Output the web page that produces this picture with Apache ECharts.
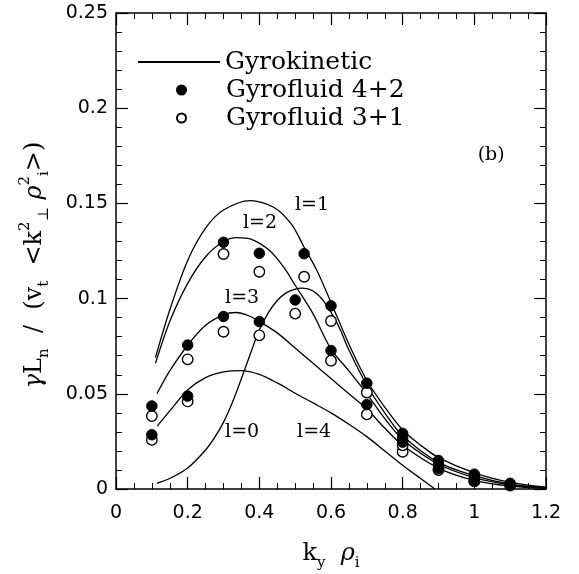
<!DOCTYPE html>
<html><head><meta charset="utf-8">
<script src="https://cdn.jsdelivr.net/npm/echarts@6/dist/echarts.min.js"></script>
<style>html,body{margin:0;padding:0;background:#fff}#c{width:579px;height:574px}</style>
</head><body><div id="c"></div>
<script>
// Gyrokinetic curves, one per l (ky rho_i, growth rate)
const curveL0 = [[0.115,0.033],[0.15,0.041],[0.2,0.052],[0.25,0.0585],[0.3,0.0615],[0.35,0.0622],[0.4,0.0602],[0.45,0.0557],[0.5,0.0503],[0.55,0.0452],[0.6,0.0400],[0.65,0.0340],[0.7,0.0275],[0.75,0.0200],[0.8,0.0125],[0.85,0.0055],[0.89,0.0]];
const curveL1 = [[0.11,0.069],[0.15,0.094],[0.2,0.120],[0.25,0.137],[0.3,0.1465],[0.375,0.1515],[0.44,0.148],[0.49,0.139],[0.525,0.127],[0.56,0.115],[0.6,0.098],[0.65,0.076],[0.7,0.057],[0.75,0.043],[0.8,0.031],[0.85,0.023],[0.9,0.0165],[1.0,0.0085],[1.1,0.0035],[1.2,0.001]];
const curveL2 = [[0.11,0.066],[0.15,0.088],[0.2,0.108],[0.25,0.122],[0.3,0.130],[0.337,0.132],[0.38,0.131],[0.43,0.125],[0.47,0.116],[0.5,0.107],[0.55,0.092],[0.6,0.0735],[0.65,0.062],[0.7,0.050],[0.75,0.037],[0.8,0.026],[0.9,0.013],[1.0,0.006],[1.1,0.0022],[1.2,0.0004]];
const curveL3 = [[0.114,0.050],[0.15,0.062],[0.2,0.0755],[0.25,0.086],[0.3,0.0915],[0.335,0.0927],[0.37,0.091],[0.4,0.088],[0.45,0.082],[0.5,0.074],[0.55,0.066],[0.6,0.058],[0.65,0.050],[0.7,0.042],[0.75,0.032],[0.8,0.023],[0.9,0.011],[1.0,0.0045],[1.1,0.0015],[1.2,0.0003]];
const curveL4 = [[0.114,0.003],[0.15,0.0055],[0.2,0.011],[0.25,0.0205],[0.275,0.027],[0.3,0.035],[0.325,0.0455],[0.35,0.058],[0.375,0.071],[0.4,0.0835],[0.425,0.0925],[0.45,0.099],[0.475,0.103],[0.5,0.105],[0.52,0.1055],[0.55,0.104],[0.58,0.0985],[0.62,0.086],[0.65,0.073],[0.7,0.0545],[0.75,0.040],[0.8,0.028],[0.9,0.014],[1.0,0.007],[1.1,0.0025],[1.2,0.0005]];

// Gyrofluid results
const fluid42 = [[0.1,0.0436],[0.1,0.0285],[0.2,0.0756],[0.2,0.0488],[0.3,0.1296],[0.3,0.0906],[0.4,0.1238],[0.4,0.0879],[0.5,0.0993],[0.525,0.1236],[0.6,0.0962],[0.6,0.0727],[0.7,0.0556],[0.7,0.0443],[0.8,0.0292],[0.8,0.0268],[0.8,0.0246],[0.9,0.0150],[0.9,0.0128],[0.9,0.0108],[1.0,0.0078],[1.0,0.0062],[1.0,0.0042],[1.1,0.0030],[1.1,0.0022]];
const fluid31 = [[0.1,0.0383],[0.1,0.0258],[0.2,0.0681],[0.2,0.0460],[0.3,0.1234],[0.3,0.0826],[0.4,0.1141],[0.4,0.0807],[0.5,0.0921],[0.525,0.1115],[0.6,0.0882],[0.6,0.0674],[0.7,0.0507],[0.7,0.0392],[0.8,0.0196],[0.8,0.0230],[0.9,0.0100],[1.0,0.0040],[1.1,0.0018]];

// Annotation texts at data coordinates
const curveLabels = [[0.547,0.149,'l=1'],[0.402,0.1397,'l=2'],[0.352,0.1003,'l=3'],[0.352,0.030,'l=0'],[0.553,0.030,'l=4']];
const panelTag = [[1.047,0.1754,'(b)']];

const xRange = [0, 1.2], xStep = 0.2;
const yRange = [0, 0.25], yStep = 0.05;
const legendNames = ['Gyrokinetic','Gyrofluid 4+2','Gyrofluid 3+1'];

const SERIF = 'DejaVu Serif';
const TICKF = 'DejaVu Sans';
const chart = echarts.init(document.getElementById('c'), null, {renderer:'canvas'});

function axisCommon(showLabel, margin){
  return {
    type:'value',
    axisLine:{show:true, onZero:false, lineStyle:{color:'#000', width:1.5}},
    axisTick:{show:true, inside:true, length:12, lineStyle:{color:'#000', width:1.2}},
    splitLine:{show:false}, minorSplitLine:{show:false},
    axisLabel:{show:showLabel, color:'#000', fontFamily:TICKF, fontSize:19, margin:margin}
  };
}
const subStyle = {fontFamily:SERIF, fontSize:15, verticalAlign:'bottom', lineHeight:15, color:'#000'};
const supStyle = {fontFamily:SERIF, fontSize:15, verticalAlign:'top', lineHeight:15, color:'#000'};
const mainStyle = {fontFamily:SERIF, fontSize:24, lineHeight:34, color:'#000'};
const itStyle = {fontFamily:SERIF, fontSize:24, lineHeight:34, fontStyle:'italic', color:'#000'};

const xBottom = Object.assign(axisCommon(true, 15), {
  min:xRange[0], max:xRange[1], interval:xStep, position:'bottom',
  minorTick:{show:true, splitNumber:4, length:6, lineStyle:{color:'#000'}},
  name:'{n|k}{sub|y}{n|  }{it|ρ}{sub|i}', nameLocation:'middle', nameGap:48,
  nameTextStyle:{rich:{n:mainStyle, it:itStyle, sub:subStyle}}
});
const xTop = Object.assign(axisCommon(false, 8), {
  min:xRange[0], max:xRange[1], interval:xStep, position:'top',
  minorTick:{show:true, splitNumber:4, length:6, lineStyle:{color:'#000'}}
});
const yLeft = Object.assign(axisCommon(true, 8), {
  min:yRange[0], max:yRange[1], interval:yStep, position:'left',
  minorTick:{show:true, splitNumber:5, length:6, lineStyle:{color:'#000'}},
  name:'{it|γ}{n|L}{sub|n}{n|  /  (v}{sub|t}{n|  <k}{sup|2}{sub|⊥}{n| }{it|ρ}{sup|2}{sub|i}{n|>)}',
  nameLocation:'middle', nameGap:64, nameRotate:90,
  nameTextStyle:{padding:[0,28,0,0], rich:{n:mainStyle, it:itStyle, sub:subStyle, sup:supStyle}}
});
const yRight = Object.assign(axisCommon(false, 8), {
  min:yRange[0], max:yRange[1], interval:yStep, position:'right',
  minorTick:{show:true, splitNumber:5, length:6, lineStyle:{color:'#000'}}
});

function curve(data){
  return {name:legendNames[0], type:'line', data:data, smooth:0.3, symbol:'none',
    lineStyle:{color:'#000', width:1.3, opacity:1}, itemStyle:{color:'#000', opacity:1}, z:2, silent:true, animation:false};
}

const option = {
  animation:false,
  backgroundColor:'#fff',
  grid:{left:116, right:33, top:13, bottom:85, containLabel:false, outerBoundsMode:'none'},
  xAxis:[xBottom, xTop],
  yAxis:[yLeft, yRight],
  legend:[
    {data:[legendNames[0]], left:137, top:49, padding:0, orient:'vertical', itemWidth:82, itemHeight:14,
     selectedMode:false, itemStyle:{color:'rgba(0,0,0,0)', borderColor:'rgba(0,0,0,0)', borderWidth:0},
     textStyle:{fontFamily:SERIF, fontSize:25, color:'#000', lineHeight:26}},
    {data:[legendNames[1], legendNames[2]], left:176, top:77, padding:0, orient:'vertical', itemWidth:9, itemHeight:9, itemGap:2,
     selectedMode:false, textStyle:{fontFamily:SERIF, fontSize:25, color:'#000', lineHeight:26, padding:[0,0,0,35]}}
  ],
  series:[
    curve(curveL0), curve(curveL1), curve(curveL2), curve(curveL3), curve(curveL4),
    {name:legendNames[2], type:'scatter', data:fluid31, symbol:'circle', symbolSize:10.5,
     itemStyle:{color:'#fff', borderColor:'#000', borderWidth:1.4, opacity:1}, z:3, silent:true},
    {name:legendNames[1], type:'scatter', data:fluid42, symbol:'circle', symbolSize:10.5,
     itemStyle:{color:'#000', borderColor:'#000', borderWidth:1, opacity:1}, z:4, silent:true},
    {name:'labels', type:'scatter', data:curveLabels.concat(panelTag), symbolSize:0, silent:true, z:5,
     itemStyle:{opacity:1},
     label:{show:true, position:'inside', formatter:p=>p.data[2], fontFamily:SERIF, fontSize:19, color:'#000', opacity:1}}
  ]
};
chart.setOption(option);
</script></body></html>
